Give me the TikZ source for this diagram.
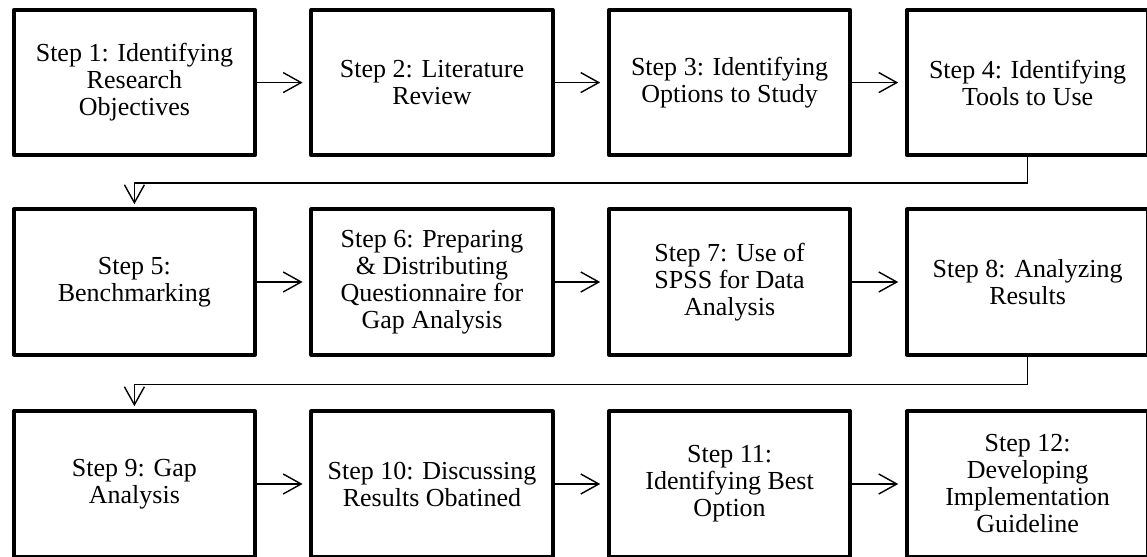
\documentclass[tikz,border=0pt]{standalone}
\usepackage{fontspec}
\setmainfont{Liberation Serif}
\usetikzlibrary{arrows.meta,positioning}

\begin{document}
\begin{tikzpicture}[
  stepbox/.style={draw,line width=.1cm,line join=round,minimum width=6.03cm,minimum height=3.63cm,
    align=center,font=\fontsize{18.5}{19.2}\selectfont},
  flow/.style={line width=.035cm,-{Straight Barb[length=.45cm,width=.5cm]}}]
\useasboundingbox (0,0) rectangle (28.675,13.925);
\clip (0,0) rectangle (28.675,13.925);
% steps, row by row
\foreach \n/\x/\y/\txt in {
  1/3.36/11.86/{Step 1: Identifying\\Research\\Objectives},
  2/10.8/11.86/{Step 2: Literature\\Review},
  3/18.24/11.86/{Step 3: Identifying\\Options to Study},
  4/25.69/11.86/{Step 4: Identifying\\Tools to Use},
  5/3.36/6.875/{Step 5:\\Benchmarking},
  6/10.8/6.875/{Step 6: Preparing\\\& Distributing\\Questionnaire for\\Gap Analysis},
  7/18.24/6.875/{Step 7: Use of\\SPSS for Data\\Analysis},
  8/25.69/6.875/{Step 8: Analyzing\\Results},
  9/3.36/1.825/{Step 9: Gap\\Analysis},
  10/10.8/1.825/{Step 10: Discussing\\Results Obatined},
  11/18.24/1.825/{Step 11:\\Identifying Best\\Option},
  12/25.69/1.825/{Step 12:\\Developing\\Implementation\\Guideline}}
  \node[stepbox] (s\n) at (\x,\y) {\txt};
\foreach \a/\b in {1/2,2/3,3/4,5/6,6/7,7/8,9/10,10/11,11/12}
  \draw[flow,shorten >=.17cm] (s\a) -- (s\b);
% wrap to next row
\draw[flow,shorten >=.08cm] (s4.south) -- ++(0,-.65) -| (s5.north);
\draw[flow,shorten >=.08cm] (s8.south) -- ++(0,-.7) -| (s9.north);
\end{tikzpicture}
\end{document}
